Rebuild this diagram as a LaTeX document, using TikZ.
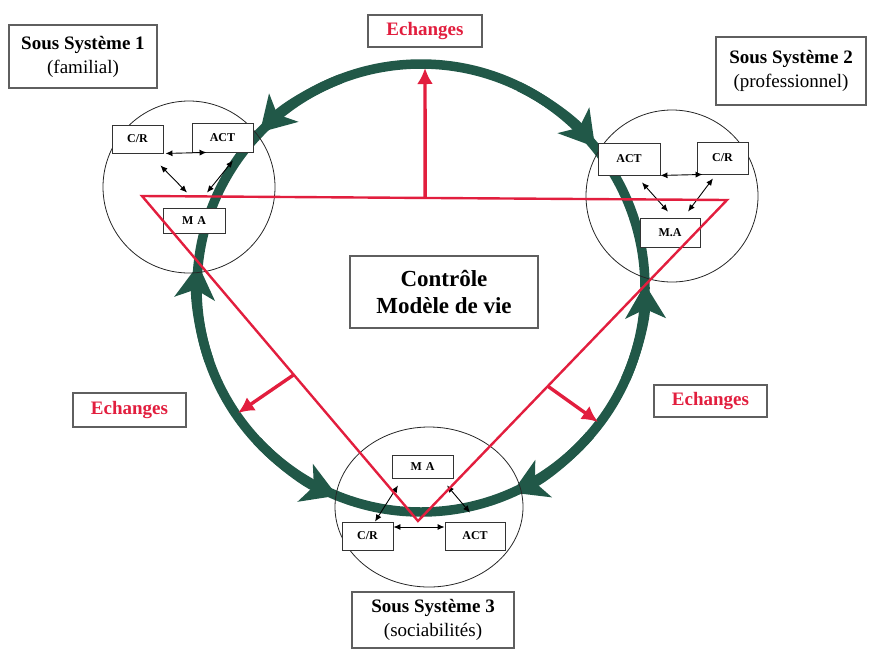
\documentclass[tikz,border=0pt]{standalone}
\usepackage{fontspec}
\setmainfont{Liberation Serif}
\usetikzlibrary{arrows.meta,calc}
\definecolor{ringgreen}{RGB}{33,88,72}
\definecolor{linkred}{RGB}{226,30,62}
\definecolor{boxgray}{RGB}{95,95,95}
\tikzstyle{ring}=[draw=ringgreen,line width=9.5pt]
\tikzstyle{ringtip}=[ring,-{Stealth[length=34pt,width=40pt,inset=9pt]}]
\tikzstyle{sysbox}=[draw=boxgray,line width=1.4pt,fill=white,align=center,inner sep=0pt,font=\fontsize{19}{24}\selectfont]
\tikzstyle{echbox}=[draw=boxgray,line width=1.4pt,fill=white,inner sep=0pt,text=linkred,font=\fontsize{19}{22}\selectfont\bfseries]
\tikzstyle{smallbox}=[draw=black!80,line width=0.9pt,fill=white,inner sep=0pt,font=\fontsize{12}{14}\selectfont\bfseries]
\tikzstyle{link}=[black,line width=0.9pt,{Latex[length=7pt,width=6pt]}-{Latex[length=7pt,width=6pt]}]
\tikzstyle{redline}=[linkred,line width=2.4pt]
\tikzstyle{redarrow}=[linkred,line width=3.4pt,-{Latex[length=16pt,width=16pt]}]
\begin{document}
\begin{tikzpicture}[x=1pt,y=-1pt]
	\useasboundingbox (0,0) rectangle (869,651);
	\coordinate (c) at (421,288);
	\draw[ring] (c) circle (224);
	\draw[ringtip] ($(c)+(-111:224)$) arc[start angle=-111,end angle=-136,radius=224];
	\draw[ringtip] ($(c)+(-64:224)$) arc[start angle=-64,end angle=-39,radius=224];
	\draw[ringtip] ($(c)+(161:224)$) arc[start angle=161,end angle=186,radius=224];
	\draw[ringtip] ($(c)+(137:224)$) arc[start angle=137,end angle=112,radius=224];
	\draw[ringtip] ($(c)+(24:224)$) arc[start angle=24,end angle=-1,radius=224];
	\draw[ringtip] ($(c)+(41:224)$) arc[start angle=41,end angle=66,radius=224];

	\draw[black!85,line width=0.8pt] (189,187) circle (86);
	\draw[black!85,line width=0.8pt] (672,196) circle (86);
	\draw[black!85,line width=0.8pt] (429,507) circle[x radius=94,y radius=80];

	\node[smallbox,minimum width=51pt,minimum height=28pt] (cr1) at (137.5,139) {C/R};
	\node[smallbox,minimum width=61pt,minimum height=29pt] (act1) at (222.5,137.5) {ACT};
	\node[smallbox,minimum width=62pt,minimum height=25pt] (ma1) at (194,220.5) {M\,\,A};
	\node[smallbox,minimum width=62pt,minimum height=32pt] (act2) at (629,159) {ACT};
	\node[smallbox,minimum width=51pt,minimum height=32pt] (cr2) at (722.5,158) {C/R};
	\node[smallbox,minimum width=60pt,minimum height=29pt] (ma2) at (670,232.5) {M.A};
	\node[smallbox,minimum width=61pt,minimum height=23pt] (ma3) at (422.5,466.5) {M\,\,A};
	\node[smallbox,minimum width=51pt,minimum height=28pt] (cr3) at (367.5,536) {C/R};
	\node[smallbox,minimum width=60pt,minimum height=28pt] (act3) at (475,536) {ACT};

	\draw[link] ([xshift=2]cr1.south east) -- ([xshift=15]act1.south west);
	\draw[link] ([shift={(-3,12)}]cr1.south east) -- ([shift={(-7,-15)}]ma1.north);
	\draw[link] ([shift={(10.5,8)}]act1.south) -- ([shift={(13,-15)}]ma1.north);
	\draw[link] (act2.south east) -- ([xshift=6]cr2.south west);
	\draw[link] ([shift={(13,7)}]act2.south) -- ([shift={(-2,-6)}]ma2.north);
	\draw[link] ([shift={(-9.5,4)}]cr2.south) -- ([shift={(18,-6)}]ma2.north);
	\draw[link] ([shift={(-24.5,7)}]ma3.south) -- ([shift={(7.5,0)}]cr3.north);
	\draw[link] ([shift={(24.5,7)}]ma3.south) -- ([shift={(-5,-9)}]act3.north);
	\draw[link] ([yshift=9]cr3.east) -- ([yshift=9]act3.west);

	\coordinate (tl) at (142,196);
	\coordinate (tr) at (727,200);
	\coordinate (bt) at (418,521);
	\coordinate (xup) at (425,68);
	\coordinate (xleft) at (238,413);
	\coordinate (xright) at (598,422);
	\draw[redline] (tl) -- (tr) -- (bt) -- cycle;
	\draw[redarrow] ($(tl)!0.484!(tr)$) -- (xup);
	\draw[redarrow] ($(tl)!0.55!(bt)$) -- (xleft);
	\draw[redarrow] ($(tr)!0.58!(bt)$) -- (xright);

	\node[sysbox,minimum width=148pt,minimum height=63pt] (sys1) at (83,56.5) {\textbf{Sous Système 1}\\(familial)};
	\node[sysbox,minimum width=150pt,minimum height=68pt] (sys2) at (791,71) {\textbf{Sous Système 2}\\(professionnel)};
	\node[sysbox,minimum width=162pt,minimum height=56pt] (sys3) at (433,620) {\textbf{Sous Système 3}\\(sociabilités)};
	\node[echbox,minimum width=114pt,minimum height=32pt] (ech1) at (425,31) {Echanges};
	\node[echbox,minimum width=113pt,minimum height=34pt] (ech2) at (129.5,410) {Echanges};
	\node[echbox,minimum width=113pt,minimum height=32pt] (ech3) at (710.5,401) {Echanges};
	\node[sysbox,minimum width=188pt,minimum height=72pt,font=\fontsize{23}{27}\selectfont\bfseries] (ctrl) at (444,292) {Contrôle\\Modèle de vie};
\end{tikzpicture}
\end{document}
